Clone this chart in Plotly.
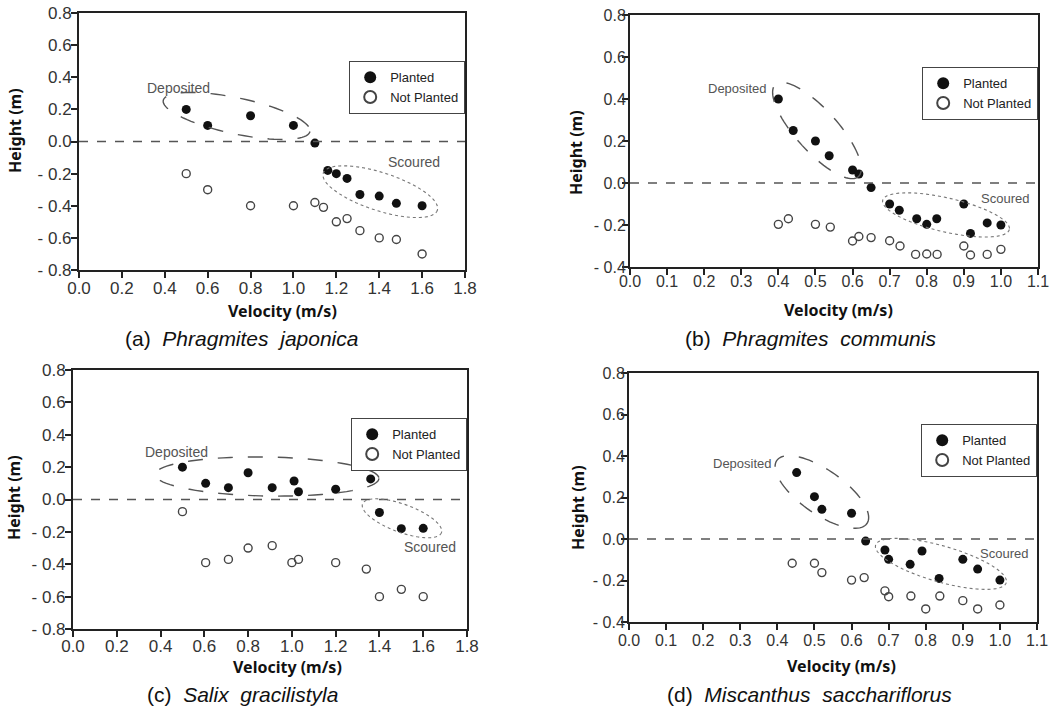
import numpy as np
import plotly.graph_objects as go

W, H = 1051, 707

# ---------------- data ----------------
# (a) Phragmites japonica
a_planted_v = [0.50, 0.60, 0.80, 1.00, 1.10, 1.16, 1.20, 1.25, 1.31, 1.40, 1.48, 1.60]
a_planted_h = [0.20, 0.10, 0.16, 0.10, -0.01, -0.18, -0.20, -0.23, -0.33, -0.34, -0.385, -0.40]
a_not_v = [0.50, 0.60, 0.80, 1.00, 1.10, 1.14, 1.20, 1.25, 1.31, 1.40, 1.48, 1.60]
a_not_h = [-0.20, -0.30, -0.40, -0.40, -0.38, -0.41, -0.50, -0.48, -0.555, -0.60, -0.61, -0.70]

# (b) Phragmites communis
b_planted_v = [0.40, 0.44, 0.50, 0.537, 0.60, 0.617, 0.65, 0.70, 0.726, 0.773, 0.80, 0.827, 0.90, 0.918, 0.963, 1.00]
b_planted_h = [0.40, 0.25, 0.20, 0.13, 0.062, 0.043, -0.022, -0.10, -0.13, -0.17, -0.197, -0.17, -0.10, -0.24, -0.19, -0.20]
b_not_v = [0.40, 0.427, 0.50, 0.54, 0.60, 0.617, 0.65, 0.70, 0.728, 0.77, 0.80, 0.828, 0.90, 0.918, 0.963, 1.00]
b_not_h = [-0.197, -0.17, -0.197, -0.21, -0.276, -0.255, -0.26, -0.275, -0.30, -0.34, -0.338, -0.34, -0.30, -0.343, -0.34, -0.316]

# (c) Salix gracilistyla
c_planted_v = [0.50, 0.606, 0.71, 0.80, 0.91, 1.01, 1.03, 1.20, 1.36, 1.40, 1.50, 1.60]
c_planted_h = [0.20, 0.10, 0.073, 0.165, 0.073, 0.114, 0.048, 0.063, 0.127, -0.08, -0.18, -0.178]
c_not_v = [0.50, 0.606, 0.71, 0.80, 0.91, 1.00, 1.03, 1.20, 1.34, 1.40, 1.50, 1.60]
c_not_h = [-0.075, -0.39, -0.37, -0.30, -0.285, -0.39, -0.37, -0.39, -0.43, -0.60, -0.555, -0.60]

# (d) Miscanthus sacchariflorus
d_planted_v = [0.452, 0.50, 0.52, 0.60, 0.638, 0.69, 0.70, 0.758, 0.79, 0.836, 0.90, 0.94, 1.00]
d_planted_h = [0.32, 0.204, 0.143, 0.124, -0.01, -0.053, -0.098, -0.122, -0.058, -0.19, -0.098, -0.145, -0.198]
d_not_v = [0.44, 0.50, 0.52, 0.60, 0.634, 0.69, 0.70, 0.76, 0.80, 0.838, 0.90, 0.94, 1.00]
d_not_h = [-0.117, -0.117, -0.162, -0.198, -0.186, -0.25, -0.278, -0.275, -0.337, -0.275, -0.297, -0.337, -0.318]

captions = ["(a)", "(b)", "(c)", "(d)"]
species = ["Phragmites  japonica", "Phragmites  communis", "Salix  gracilistyla", "Miscanthus  sacchariflorus"]
series_names = ["Planted", "Not Planted"]
x_title = "Velocity (m/s)"
y_title = "Height (m)"

# ---------------- layout parameters ----------------
panels = [
    dict(planted=(a_planted_v, a_planted_h), notp=(a_not_v, a_not_h),
         px=(79, 465), py=(13, 270), xr=(0, 1.8), xstep=0.2, yr=(-0.8, 0.8),
         fs=17, lfs=14, xso=-4, yso=-4,
         dep=dict(c=(0.735, 0.159), a=75, b=18, t=12), sco=dict(c=(1.405, -0.3125), a=60, b=19, t=18),
         dep_lbl=(0.462, 0.333), sco_lbl=(1.5625, -0.128),
         leg=(465, 61), ytitle=(15, 131), xtitle=(282, 311), cap=(123, 338)),
    dict(planted=(b_planted_v, b_planted_h), notp=(b_not_v, b_not_h),
         px=(630, 1038), py=(15, 267), xr=(0, 1.1), xstep=0.1, yr=(-0.4, 0.8),
         fs=16, lfs=13, xso=-7, yso=-7,
         dep=dict(c=(0.504, 0.25), a=62, b=21, t=48), sco=dict(c=(0.852, -0.152), a=65, b=17, t=13),
         dep_lbl=(0.291, 0.448), sco_lbl=(1.011, -0.076),
         leg=(1038, 67), ytitle=(576, 153), xtitle=(838, 310), cap=(683, 338)),
    dict(planted=(c_planted_v, c_planted_h), notp=(c_not_v, c_not_h),
         px=(73, 467), py=(370, 629), xr=(0, 1.8), xstep=0.2, yr=(-0.8, 0.8),
         fs=17, lfs=14, xso=-5, yso=-4,
         dep=dict(c=(0.886, 0.142), a=112, b=19.5, t=1), sco=dict(c=(1.503, -0.116), a=42, b=14, t=20),
         dep_lbl=(0.475, 0.296), sco_lbl=(1.631, -0.296),
         leg=(467, 418), ytitle=(14, 498), xtitle=(287, 667), cap=(145, 694)),
    dict(planted=(d_planted_v, d_planted_h), notp=(d_not_v, d_not_h),
         px=(629, 1037), py=(373, 622), xr=(0, 1.1), xstep=0.1, yr=(-0.4, 0.8),
         fs=16, lfs=13, xso=-3, yso=-7,
         dep=dict(c=(0.52, 0.2265), a=55, b=22, t=35), sco=dict(c=(0.841, -0.12), a=68, b=18, t=16),
         dep_lbl=(0.307, 0.366), sco_lbl=(1.01, -0.072),
         leg=(1037, 424), ytitle=(578, 508), xtitle=(841, 666), cap=(665, 694)),
]

TXT = "#333333"
AX = "#222222"


def ellipse_path(e, sx, sy, n=90):
    t = np.linspace(0, 2 * np.pi, n)
    th = np.deg2rad(e["t"])
    dx = e["a"] * np.cos(t) * np.cos(th) - e["b"] * np.sin(t) * np.sin(th)
    dy = e["a"] * np.cos(t) * np.sin(th) + e["b"] * np.sin(t) * np.cos(th)
    xs = e["c"][0] + dx / sx
    ys = e["c"][1] - dy / sy
    pts = " L ".join(f"{x:.5f},{y:.5f}" for x, y in zip(xs, ys))
    return "M " + pts + " Z"


fig = go.Figure()
layout = dict(width=W, height=H, margin=dict(l=0, r=0, t=0, b=0, pad=0, autoexpand=False),
              paper_bgcolor="white", plot_bgcolor="white", showlegend=True,
              font=dict(family="Liberation Sans, Arial", color=TXT))
shapes, annotations = [], []

for i, p in enumerate(panels):
    k = "" if i == 0 else str(i + 1)
    xa, ya = "x" + k, "y" + k
    leg = "legend" + k
    dom_x = [p["px"][0] / W, p["px"][1] / W]
    dom_y = [1 - p["py"][1] / H, 1 - p["py"][0] / H]
    sx = (p["px"][1] - p["px"][0]) / (p["xr"][1] - p["xr"][0])
    sy = (p["py"][1] - p["py"][0]) / (p["yr"][1] - p["yr"][0])

    fig.add_trace(go.Scatter(x=p["planted"][0], y=p["planted"][1], mode="markers",
                             name=series_names[0], xaxis=xa, yaxis=ya, legend=leg,
                             marker=dict(symbol="circle", size=9, color="#111111",
                                         line=dict(width=0))))
    fig.add_trace(go.Scatter(x=p["notp"][0], y=p["notp"][1], mode="markers",
                             name=series_names[1], xaxis=xa, yaxis=ya, legend=leg,
                             marker=dict(symbol="circle-open", size=8, color="#444444",
                                         line=dict(width=1.4))))

    nx = int(round((p["xr"][1] - p["xr"][0]) / p["xstep"]))
    xt = [round(p["xr"][0] + j * p["xstep"], 2) for j in range(nx + 1)]
    ny = int(round((p["yr"][1] - p["yr"][0]) / 0.2))
    yt = [round(p["yr"][0] + j * 0.2, 2) for j in range(ny + 1)]
    ytxt = [(f"- {abs(v):.1f}" if v < -1e-9 else f"{abs(v):.1f}") for v in yt]

    axis_common = dict(showline=True, linecolor=AX, linewidth=2, mirror=True,
                       ticks="outside", ticklen=6, tickwidth=1.6, tickcolor=AX,
                       showgrid=False, zeroline=False, automargin=False,
                       tickfont=dict(family="Liberation Sans, Arial", size=p["fs"], color=TXT))
    layout["xaxis" + k] = dict(axis_common, domain=dom_x, range=list(p["xr"]), anchor=ya,
                               tickvals=xt, ticktext=[f"{v:.1f}" for v in xt],
                               ticklabelstandoff=p["xso"])
    layout["yaxis" + k] = dict(axis_common, domain=dom_y, range=list(p["yr"]), anchor=xa,
                               tickvals=yt, ticktext=ytxt, ticklabelstandoff=p["yso"])

    layout[leg] = dict(x=p["leg"][0] / W, y=1 - p["leg"][1] / H, xanchor="right", yanchor="top",
                       bgcolor="white", bordercolor="#444444", borderwidth=1.2,
                       font=dict(family="Liberation Sans, Arial", size=13, color="#222222"),
                       itemsizing="constant", tracegroupgap=0)

    # zero reference line
    shapes.append(dict(type="line", xref=xa + " domain", yref=ya, x0=0, x1=1, y0=0, y1=0,
                       line=dict(color="#555555", width=1.5, dash="dash")))
    # group outlines
    shapes.append(dict(type="path", xref=xa, yref=ya, path=ellipse_path(p["dep"], sx, sy),
                       line=dict(color="#555555", width=1.4, dash="longdash")))
    shapes.append(dict(type="path", xref=xa, yref=ya, path=ellipse_path(p["sco"], sx, sy),
                       line=dict(color="#777777", width=1.1, dash="dot")))

    annotations.append(dict(xref=xa, yref=ya, x=p["dep_lbl"][0], y=p["dep_lbl"][1],
                            text="Deposited", showarrow=False,
                            font=dict(size=p["lfs"], color="#555555")))
    annotations.append(dict(xref=xa, yref=ya, x=p["sco_lbl"][0], y=p["sco_lbl"][1],
                            text="Scoured", showarrow=False,
                            font=dict(size=p["lfs"], color="#555555")))
    # axis titles
    annotations.append(dict(xref="paper", yref="paper", x=p["ytitle"][0] / W, y=1 - p["ytitle"][1] / H,
                            text=f"<b>{y_title}</b>", textangle=-90, showarrow=False,
                            xanchor="center", yanchor="middle",
                            font=dict(family="Noto Sans", size=16, color="#111111")))
    annotations.append(dict(xref="paper", yref="paper", x=p["xtitle"][0] / W, y=1 - p["xtitle"][1] / H,
                            text=f"<b>{x_title}</b>", showarrow=False,
                            xanchor="center", yanchor="middle",
                            font=dict(family="Noto Sans", size=16, color="#111111")))
    # caption
    annotations.append(dict(xref="paper", yref="paper", x=p["cap"][0] / W, y=1 - p["cap"][1] / H,
                            text=captions[i] + "\u00a0\u00a0<i>" + species[i].replace(" ", "\u00a0") + "</i>",
                            showarrow=False, xanchor="left", yanchor="middle",
                            font=dict(family="Liberation Sans, Arial", size=21, color="#111111")))

layout["shapes"] = shapes
layout["annotations"] = annotations
fig.update_layout(**layout)
fig.write_html("out.html", config={"displayModeBar": False},
               post_script="document.body.style.margin='0px';document.body.style.padding='0px';"
                           "document.body.style.overflow='hidden';")
